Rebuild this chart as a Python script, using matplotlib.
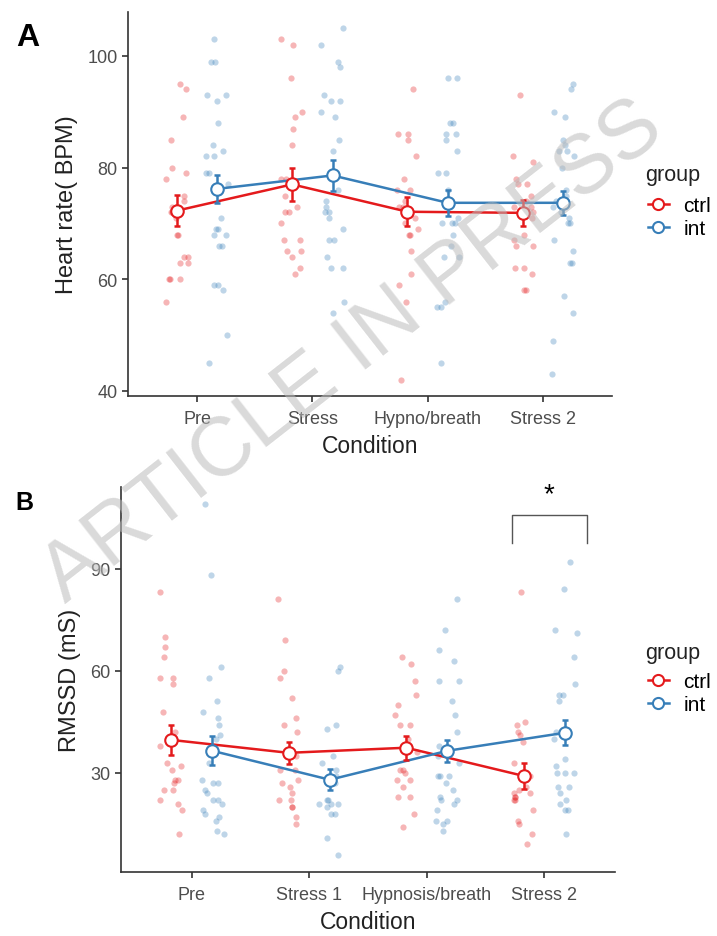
import matplotlib
matplotlib.use('Agg')
import matplotlib.pyplot as plt
import numpy as np
from matplotlib.lines import Line2D

plt.rcParams['font.family'] = ['Liberation Sans', 'DejaVu Sans']

RED = '#E41A1C'
BLUE = '#377EB8'

# ---- panel A: heart rate ----
hr_conditions = ['Pre', 'Stress', 'Hypno/breath', 'Stress 2']
hr_ctrl = [
    [95, 94, 89, 85, 80, 79, 78, 75, 74, 73, 73, 72, 72, 71, 68, 68, 64, 64, 63, 63, 60, 60, 60, 56],
    [103, 102, 96, 90, 89, 87, 84, 78, 78, 75, 73, 72, 72, 70, 67, 67, 65, 65, 64, 62, 61],
    [94, 86, 86, 85, 82, 78, 76, 76, 74, 73, 73, 71, 70, 69, 68, 68, 65, 61, 59, 56, 42],
    [93, 82, 81, 78, 77, 77, 75, 74, 73, 73, 72, 71, 68, 67, 66, 66, 62, 62, 61, 58, 58],
]
hr_int = [
    [103, 99, 99, 93, 93, 92, 88, 84, 83, 82, 82, 79, 79, 77, 71, 69, 69, 68, 68, 66, 66, 59, 59, 58, 50, 45],
    [105, 102, 99, 98, 93, 92, 92, 90, 89, 85, 83, 76, 74, 73, 72, 72, 71, 69, 67, 67, 64, 62, 62, 56, 54],
    [96, 96, 88, 88, 86, 86, 85, 83, 79, 79, 76, 71, 70, 70, 70, 68, 66, 64, 64, 56, 55, 55, 45],
    [95, 94, 90, 89, 85, 84, 83, 83, 82, 80, 76, 75, 74, 73, 72, 71, 70, 70, 67, 65, 63, 63, 57, 54, 49, 43],
]
hr_ctrl_mean = [72.3, 77.0, 72.1, 71.9]
hr_ctrl_se = [2.8, 2.9, 2.6, 2.3]
hr_int_mean = [76.2, 78.6, 73.7, 73.7]
hr_int_se = [2.5, 2.8, 2.3, 2.2]

# ---- panel B: RMSSD ----
rm_conditions = ['Pre', 'Stress 1', 'Hypnosis/breath', 'Stress 2']
rm_ctrl = [
    [83, 70, 67, 64, 58, 58, 56, 48, 42, 38, 33, 32, 31, 28, 28, 27, 25, 25, 22, 21, 19, 12],
    [81, 69, 60, 58, 52, 46, 44, 42, 35, 31, 31, 28, 27, 26, 24, 22, 22, 20, 20, 17, 15],
    [64, 62, 57, 53, 50, 47, 44, 44, 40, 36, 31, 31, 30, 28, 28, 26, 23, 23, 18, 14],
    [83, 45, 44, 42, 41, 39, 33, 29, 26, 25, 24, 24, 23, 23, 22, 22, 19, 16, 15, 12, 9],
]
rm_int = [
    [109, 88, 61, 58, 51, 48, 46, 44, 41, 40, 33, 28, 27, 27, 25, 24, 22, 22, 21, 19, 18, 17, 16, 13, 12],
    [61, 60, 44, 43, 35, 33, 31, 29, 27, 27, 22, 22, 21, 21, 21, 20, 18, 18, 11, 6],
    [81, 72, 66, 63, 57, 57, 51, 47, 42, 38, 35, 33, 29, 29, 29, 27, 25, 23, 22, 22, 21, 19, 16, 16, 15, 13],
    [92, 84, 72, 71, 64, 56, 53, 53, 51, 42, 40, 34, 32, 30, 30, 30, 26, 26, 24, 22, 21, 19, 19, 12],
]
rm_ctrl_mean = [39.7, 35.9, 37.4, 29.1]
rm_ctrl_se = [4.5, 3.2, 3.5, 3.8]
rm_int_mean = [36.5, 28.0, 36.5, 41.8]
rm_int_se = [4.2, 3.1, 3.2, 3.7]

rng = np.random.default_rng(7)
dodge = 0.175


def panel(ax, conds, ctrl, intv, cm, cse, im, ise, ylim, yticks, ylabel):
	x = np.arange(1, len(conds) + 1)
	for grp, col, off in [(ctrl, RED, -dodge), (intv, BLUE, dodge)]:
		for i, vals in enumerate(grp):
			jx = x[i] + off + rng.uniform(-0.1, 0.1, len(vals))
			ax.scatter(jx, vals, s=20, color=col, alpha=0.32, linewidths=0, zorder=2)
	for m, se, col, off in [(cm, cse, RED, -dodge), (im, ise, BLUE, dodge)]:
		ax.plot(x + off, m, color=col, lw=1.8, zorder=3)
		ax.errorbar(x + off, m, yerr=se, fmt='none', ecolor=col, elinewidth=1.8,
			capsize=2.5, capthick=1.8, zorder=4)
		ax.plot(x + off, m, 'o', ms=9, mfc='white', mec=col, mew=1.5, zorder=5)
	ax.set_xlim(0.4, 4.6)
	ax.set_ylim(*ylim)
	ax.set_xticks(x)
	ax.set_xticklabels(conds)
	ax.set_yticks(yticks)
	for s in ['top', 'right']:
		ax.spines[s].set_visible(False)
	for s in ['left', 'bottom']:
		ax.spines[s].set_color('#333333')
		ax.spines[s].set_linewidth(1.2)
	ax.tick_params(axis='both', labelsize=13, labelcolor='#4d4d4d', color='#333333',
		length=4, width=1.2)
	ax.tick_params(axis='x', pad=6)
	ax.set_xlabel('Condition', fontsize=16.5, color='#222222', labelpad=5)
	ax.set_ylabel(ylabel, fontsize=17, color='#222222', labelpad=7)


fig = plt.figure(figsize=(7.17, 9.37), dpi=100)
axA = fig.add_axes([0.1785, 0.5763, 0.675, 0.410])
axB = fig.add_axes([0.1688, 0.0683, 0.689, 0.411])

panel(axA, hr_conditions, hr_ctrl, hr_int, hr_ctrl_mean, hr_ctrl_se, hr_int_mean, hr_int_se,
	(39.1, 107.9), [40, 60, 80, 100], 'Heart rate( BPM)')
panel(axB, rm_conditions, rm_ctrl, rm_int, rm_ctrl_mean, rm_ctrl_se, rm_int_mean, rm_int_se,
	(0.9, 114), [30, 60, 90], 'RMSSD (mS)')

# significance bracket
bx0, bx1, by0, by1 = 3.72, 4.36, 97.6, 105.6
axB.plot([bx0, bx0, bx1, bx1], [by0, by1, by1, by0], color='#555555', lw=1, clip_on=False, zorder=6)
axB.text((bx0 + bx1) / 2, by1 + 2.5, '*', fontsize=20, ha='center', va='bottom', color='black')

handles = [Line2D([], [], color=RED, lw=1.8, marker='o', ms=8, mfc='white', mec=RED, mew=1.5),
	Line2D([], [], color=BLUE, lw=1.8, marker='o', ms=8, mfc='white', mec=BLUE, mew=1.5)]
for ytitle, ytop in [(175, 197), (653, 673)]:
	fig.text(645 / 717, 1 - ytitle / 937, 'group', fontsize=15.5, color='#222222', va='center')
	fig.legend(handles, ['ctrl', 'int'], loc='upper left',
		bbox_to_anchor=(648 / 717, 1 - ytop / 937), frameon=False, fontsize=15,
		handlelength=1.0, handletextpad=0.7, labelspacing=0.2, borderaxespad=0, borderpad=0)

fig.text(0.022, 1 - 38 / 937, 'A', fontsize=23, fontweight='bold', va='center')
fig.text(0.022, 1 - 503 / 937, 'B', fontsize=18, fontweight='bold', va='center')

# watermark
fig.text(0.492, 0.624, 'ARTICLE IN PRESS', fontsize=60, rotation=38, color='#bbbbbb',
	alpha=0.55, ha='center', va='center', zorder=10)

fig.savefig('out.png', dpi=100)
